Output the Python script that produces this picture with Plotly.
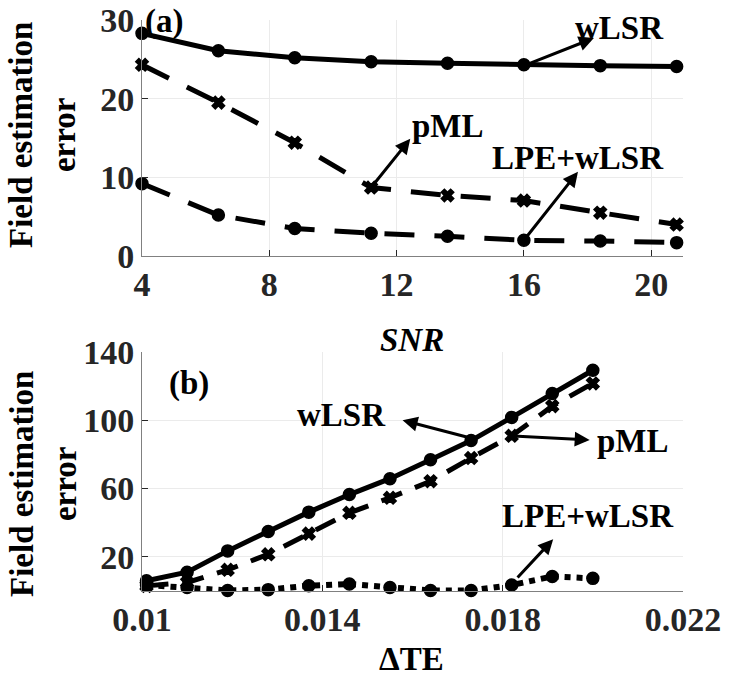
import plotly.graph_objects as go

# ---- data: panel (a) ----
snr = [4, 6.4, 8.8, 11.2, 13.6, 16, 18.4, 20.8]
a_wlsr = [28.3, 26.1, 25.2, 24.7, 24.5, 24.3, 24.2, 24.1]
a_pml = [24.3, 19.5, 14.4, 8.7, 7.7, 7.05, 5.5, 4.0]
a_lpe = [9.2, 5.2, 3.5, 2.9, 2.5, 2.0, 1.9, 1.7]

# ---- data: panel (b) ----
dte = [0.0101, 0.011, 0.0119, 0.0128, 0.0137, 0.0146, 0.0155, 0.0164, 0.0173, 0.0182, 0.0191, 0.0200]
b_wlsr = [6, 11, 23.5, 34.8, 46.2, 56.5, 65.8, 76.9, 88.1, 101.7, 115.7, 129.3]
b_pml = [3, 5, 12.4, 21.5, 33.6, 45.8, 54.6, 64.3, 77.9, 90.9, 108.3, 121.6]
b_lpe = [3.5, 2, 0.3, 0.8, 3.1, 4.1, 2, 0.3, 0.3, 3.5, 8.5, 7.4]

a_xticks = [4, 8, 12, 16, 20]
a_yticks = [0, 10, 20, 30]
b_xticks = [0.01, 0.014, 0.018, 0.022]
b_xticklabels = ["0.01", "0.014", "0.018", "0.022"]
b_yticks = [20, 60, 100, 140]

FONT = "Liberation Serif"
W, H = 732, 679

fig = go.Figure()

def add(x, y, xa, ya, dash, symbol, width=5, msize=12):
    fig.add_trace(go.Scatter(
        x=x, y=y, xaxis=xa, yaxis=ya, mode="lines+markers",
        line=dict(color="black", width=width, dash=dash),
        marker=dict(color="black", size=msize, symbol=symbol,
                    line=dict(color="black", width=1.5)),
        cliponaxis=False, showlegend=False))

add(snr, a_wlsr, "x", "y", "solid", "circle")
add(snr, a_pml, "x", "y", "30px,20px", "x", msize=11)
add(snr, a_lpe, "x", "y", "30px,20px", "circle")

add(dte, b_wlsr, "x2", "y2", "solid", "circle")
add(dte, b_pml, "x2", "y2", "22px,14px", "x", msize=11)
add(dte, b_lpe, "x2", "y2", "6px,6px", "circle", width=6)

tickfont = dict(family=FONT, size=34, color="#262626", weight="bold")
common = dict(showgrid=True, gridcolor="#ebebeb", gridwidth=1,
              showline=True, linecolor="#808080", linewidth=1,
              ticks="inside", ticklen=6, tickcolor="#262626",
              tickfont=tickfont, zeroline=False, automargin=False,
              ticklabeloverflow="allow")

xdom = [142 / W, 683 / W]
fig.update_layout(
    width=W, height=H, margin=dict(l=0, r=0, t=0, b=0, autoexpand=False),
    paper_bgcolor="white", plot_bgcolor="white",
    xaxis=dict(domain=xdom, range=[4, 21], tickvals=a_xticks, anchor="y",
               ticklabelstandoff=-2, **common),
    yaxis=dict(domain=[1 - 256 / H, 1 - 20 / H], range=[0, 30], tickvals=a_yticks,
               anchor="x", ticklabelstandoff=0, **common),
    xaxis2=dict(domain=xdom, range=[0.01, 0.022], tickvals=b_xticks,
                ticktext=b_xticklabels, anchor="y2", ticklabelstandoff=-2, **common),
    yaxis2=dict(domain=[1 - 591 / H, 1 - 352 / H], range=[0, 140], tickvals=b_yticks,
                anchor="x2", ticklabelstandoff=0, **common),
)

labfont = dict(family=FONT, size=33, color="black", weight="bold")
ann = []

# y-axis titles
for yc in [135, 484]:
    ann.append(dict(text="Field estimation<br>error", xref="paper", yref="paper",
                    x=43 / W, y=1 - yc / H, showarrow=False, textangle=-90,
                    font=labfont, xanchor="center", yanchor="middle"))
# x-axis titles
ann.append(dict(text="<i>SNR</i>", xref="paper", yref="paper", x=412 / W, y=1 - 340 / H,
                showarrow=False, font=labfont, xanchor="center", yanchor="middle"))
ann.append(dict(text="ΔTE", xref="paper", yref="paper", x=412 / W, y=1 - 659 / H,
                showarrow=False, font=labfont, xanchor="center", yanchor="middle"))

# panel labels
ann.append(dict(text="(a)", xref="paper", yref="paper", x=164 / W, y=1 - 21 / H,
                showarrow=False, font=labfont, xanchor="center", yanchor="middle"))
ann.append(dict(text="(b)", x=0.01105, y=121.5, xref="x2", yref="y2",
                showarrow=False, font=labfont, xanchor="center", yanchor="middle"))

# series labels (panel a)
for txt, x, y in [("wLSR", 19.0, 29.0), ("pML", 13.6, 16.5), ("LPE+wLSR", 17.7, 12.4)]:
    ann.append(dict(text=txt, x=x, y=y, xref="x", yref="y", showarrow=False,
                    font=labfont, xanchor="center", yanchor="middle"))
# series labels (panel b)
for txt, x, y in [("wLSR", 0.01442, 103), ("pML", 0.0209, 87.6), ("LPE+wLSR", 0.0199, 43.9)]:
    ann.append(dict(text=txt, x=x, y=y, xref="x2", yref="y2", showarrow=False,
                    font=labfont, xanchor="center", yanchor="middle"))

# arrows (head at x,y ; tail at ax,ay)
arrows = [
    ("x", "y", 18.2, 27.7, 16.0, 24.2),
    ("x", "y", 12.43, 14.9, 11.2, 8.7),
    ("x", "y", 17.7, 10.7, 16.0, 2.0),
    ("x2", "y2", 0.01578, 100, 0.0173, 89.5),
    ("x2", "y2", 0.01993, 88.5, 0.0182, 90.9),
    ("x2", "y2", 0.01912, 30.3, 0.0183, 7),
]
for xr, yr, x, y, ax, ay in arrows:
    ann.append(dict(text="", x=x, y=y, ax=ax, ay=ay, xref=xr, yref=yr, axref=xr, ayref=yr,
                    showarrow=True, arrowhead=2, arrowsize=1, arrowwidth=3,
                    arrowcolor="black"))

fig.update_layout(annotations=ann)
fig.write_html("out.html", config={"displayModeBar": False},
               post_script="document.body.style.margin='0';")
